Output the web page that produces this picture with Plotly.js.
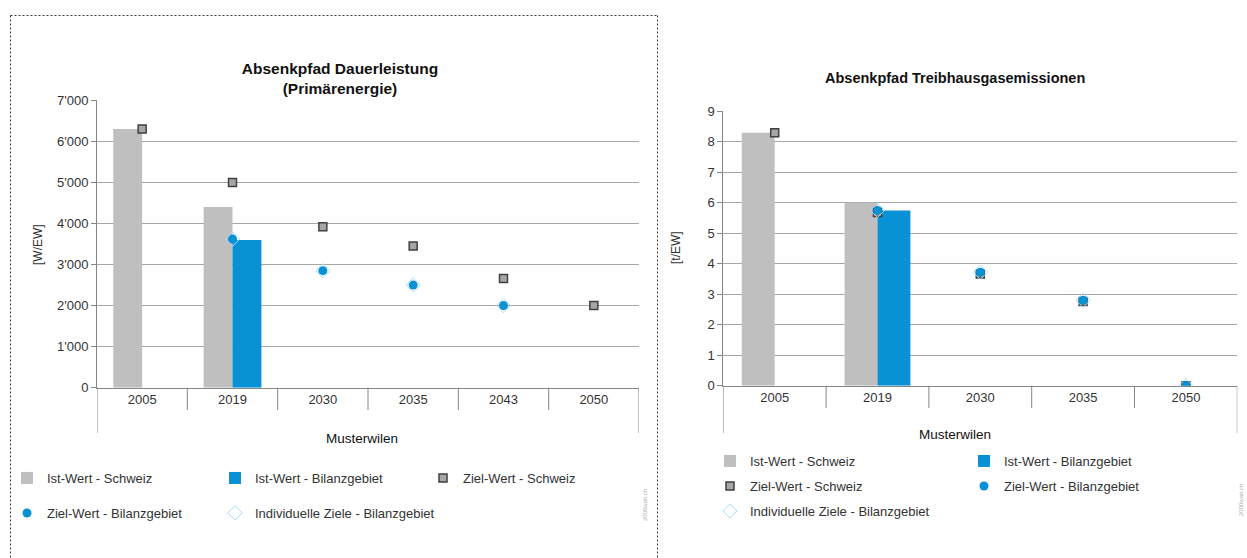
<!DOCTYPE html>
<html><head><meta charset="utf-8">
<script src="https://cdn.plot.ly/plotly-3.0.1.min.js"></script>
<style>html,body{margin:0;padding:0;background:#fff}#chart{width:1247px;height:558px}</style>
</head><body><div id="chart"></div><script>
const W = 1247, H = 558;

// ---- Data: left chart (Dauerleistung, W/EW) ----
const yearsL = ['2005', '2019', '2030', '2035', '2043', '2050'];
const istSchweizL = [6300, 4400, null, null, null, null];
const istBilanzL = [null, 3600, null, null, null, null];
const zielSchweizL = [6300, 5000, 3920, 3450, 2660, 2000];
const zielBilanzL = [null, 3620, 2850, 2500, 2000, null];
const indivL = [null, 3620, 2850, 2500, 2000, null];

// ---- Data: right chart (Treibhausgasemissionen, t/EW) ----
const yearsR = ['2005', '2019', '2030', '2035', '2050'];
const istSchweizR = [8.3, 6.0, null, null, null];
const istBilanzR = [null, 5.75, null, null, null];
const zielSchweizR = [8.3, 5.68, 3.66, 2.76, 0];
const zielBilanzR = [null, 5.75, 3.72, 2.8, 0];
const indivR = [null, 5.75, 3.72, 2.8, 0];

const names = ['Ist-Wert - Schweiz', 'Ist-Wert - Bilanzgebiet', 'Ziel-Wert - Schweiz',
               'Ziel-Wert - Bilanzgebiet', 'Individuelle Ziele - Bilanzgebiet'];

const GRAY = '#bfbfbf', BLUE = '#0891d4';
const FONT = 'Liberation Sans, Arial, sans-serif';
const px = x => x / W, py = y => 1 - y / H;

const sqMarker = {symbol: 'square', size: 8, color: '#a6a6a6', line: {color: '#404040', width: 1.5}};
const dotMarker = {symbol: 'circle', size: 9, color: BLUE, line: {width: 0}};
const diaMarker = {symbol: 'diamond-open', size: 11, color: '#a9dcf5', line: {width: 1}};

function traces(cats, a, b, c, d, e, xa, ya, legs) {
  return [
    {type: 'bar', x: cats, y: a, name: names[0], marker: {color: GRAY}, xaxis: xa, yaxis: ya, legend: legs[0]},
    {type: 'bar', x: cats, y: b, name: names[1], marker: {color: BLUE}, xaxis: xa, yaxis: ya, legend: legs[1]},
    {type: 'scatter', mode: 'markers', x: cats, y: c, name: names[2], marker: sqMarker, xaxis: xa, yaxis: ya, legend: legs[2]},
    {type: 'scatter', mode: 'markers', x: cats, y: d, name: names[3], marker: dotMarker, xaxis: xa, yaxis: ya, legend: legs[3]},
    {type: 'scatter', mode: 'markers', x: cats, y: e, name: names[4], marker: diaMarker, xaxis: xa, yaxis: ya, legend: legs[4]}
  ];
}

const data = [
  ...traces(yearsL, istSchweizL, istBilanzL, zielSchweizL, zielBilanzL, indivL, 'x', 'y',
            ['legend', 'legend', 'legend', 'legend2', 'legend6']),
  ...traces(yearsR, istSchweizR, istBilanzR, zielSchweizR, zielBilanzR, indivR, 'x2', 'y2',
            ['legend3', 'legend3', 'legend4', 'legend4', 'legend5'])
];

const AX = '#868686', GRID = '#a6a6a6', TXT = '#333333';
const tickfont = {family: FONT, size: 13, color: TXT};

const L = {x0: 97, x1: 639, yb: 387.7, yt: 100.3};
const R = {x0: 723.3, x1: 1237.3, yb: 385.7, yt: 111.3};

function xax(dom, anchor, n) {
  return {domain: [px(dom.x0), px(dom.x1)], anchor: anchor, type: 'category', range: [-0.5, n - 0.5],
          showline: true, linecolor: AX, linewidth: 1, ticks: '', showgrid: false, zeroline: false,
          tickfont: tickfont, fixedrange: true, automargin: false};
}
function yax(dom, anchor, max, dtick, fmt) {
  return {domain: [py(dom.yb), py(dom.yt)], anchor: anchor, range: [0, max], dtick: dtick, tick0: 0,
          tickformat: fmt, showline: true, linecolor: AX, linewidth: 1, ticks: 'outside', ticklen: 5,
          tickcolor: AX, gridcolor: GRID, gridwidth: 1, zeroline: false, tickfont: tickfont, fixedrange: true,
          automargin: false};
}

const shapes = [];
// dotted frame
const dot = {color: '#3a3a3a', width: 1, dash: '2px,2px'};
shapes.push({type: 'line', xref: 'paper', yref: 'paper', x0: px(10.5), x1: px(10.5), y0: py(15.5), y1: 0, line: dot});
shapes.push({type: 'line', xref: 'paper', yref: 'paper', x0: px(10.5), x1: px(657.5), y0: py(15.5), y1: py(15.5), line: dot});
shapes.push({type: 'line', xref: 'paper', yref: 'paper', x0: px(657.5), x1: px(657.5), y0: py(15.5), y1: 0, line: dot});
// category separators (two-level category axis look)
function seps(n, xref, dom, shortEnd, longEnd) {
  for (let i = 0; i <= n; i++) {
    const edge = (i === 0 || i === n);
    shapes.push({type: 'line', xref: xref, yref: 'paper', x0: i - 0.5, x1: i - 0.5,
                 y0: py(dom.yb), y1: py(edge ? longEnd : shortEnd), line: {color: AX, width: 1}});
  }
}
seps(yearsL.length, 'x', L, 410, 433);
seps(yearsR.length, 'x2', R, 408, 433);

function ann(text, x, y, size, color, angle) {
  return {text: text, x: px(x), y: py(y), xref: 'paper', yref: 'paper', xanchor: 'center', yanchor: 'middle',
          textangle: angle || 0, showarrow: false, font: {family: FONT, size: size, color: color}};
}
const annotations = [
  ann('[W/EW]', 38, 245, 12, TXT, -90),
  ann('[t/EW]', 676, 248, 12, TXT, -90),
  ann('Musterwilen', 362, 438, 13.5, '#111'),
  ann('Musterwilen', 955, 434, 13.5, '#111'),
  ann('<b>Absenkpfad Treibhausgasemissionen</b>', 955, 78, 14.5, '#111'),
  ann('2000watt.ch', 645, 505, 6, '#b0b0b0', -90),
  ann('2000watt.ch', 1241, 500, 6, '#b0b0b0', -90)
];

const legFont = {family: FONT, size: 13, color: TXT};
function leg(x, y, ew) {
  return {x: px(x), y: py(y), xanchor: 'left', yanchor: 'middle', orientation: 'h', entrywidth: ew,
          entrywidthmode: 'pixels', font: legFont, bgcolor: 'rgba(0,0,0,0)', borderwidth: 0,
          traceorder: 'normal', itemclick: false, itemdoubleclick: false};
}

const layout = {
  width: W, height: H,
  margin: {l: 0, r: 0, t: 0, b: 0, autoexpand: false},
  paper_bgcolor: '#fff', plot_bgcolor: 'rgba(0,0,0,0)',
  separators: ".'",
  font: {family: FONT, size: 12, color: TXT},
  title: {text: '<b>Absenkpfad Dauerleistung<br>(Primärenergie)</b>', x: px(340), xanchor: 'center',
          y: py(74), yanchor: 'middle', xref: 'paper', yref: 'paper', font: {family: FONT, size: 15.5, color: '#111'}},
  barmode: 'group',
  bargap: 0.36,
  xaxis: xax(L, 'y', yearsL.length),
  yaxis: yax(L, 'x', 7000, 1000, ',d'),
  xaxis2: xax(R, 'y2', yearsR.length),
  yaxis2: yax(R, 'x2', 9, 1, 'd'),
  legend: leg(7, 478, 163),
  legend2: leg(7, 513, 163),
  legend6: leg(215, 513, 230),
  legend3: leg(710, 461, 209),
  legend4: leg(710, 486, 209),
  legend5: leg(710, 511, 209),
  shapes: shapes,
  annotations: annotations,
  hovermode: false
};

Plotly.newPlot('chart', data, layout, {displayModeBar: false, staticPlot: true});
</script></body></html>
